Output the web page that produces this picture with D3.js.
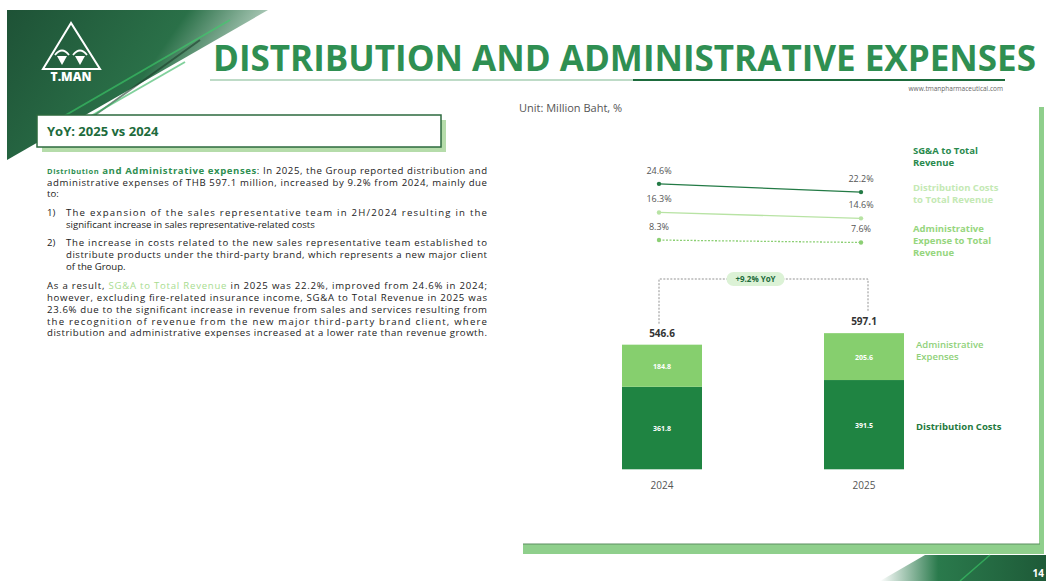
<!DOCTYPE html>
<html>
<head>
<meta charset="utf-8">
<script src="https://cdn.jsdelivr.net/npm/d3@7"></script>
<style>
  body { margin: 0; background: #fff; }
  svg { display: block; font-family: "Open Sans", "Noto Sans", sans-serif; }
</style>
</head>
<body>
<svg id="slide" width="1046" height="581"></svg>
<script>
// chart data
var years = ["2024", "2025"];
var distCosts = [361.8, 391.5];
var adminExp = [184.8, 205.6];
var totals = [546.6, 597.1];
var sgaRatio = [24.6, 22.2];
var distRatio = [16.3, 14.6];
var adminRatio = [8.3, 7.6];
var yoyLabel = "+9.2% YoY";

var green = "#2f8f52", dark = "#1d6b3c";
var colDist = "#1f8442", colAdmin = "#86cf6e";

var svg = d3.select("#slide");
var defs = svg.append("defs");

// header banner
var gr = defs.append("linearGradient").attr("id", "ban").attr("x1", 0).attr("y1", 0).attr("x2", 1).attr("y2", 0.4);
gr.append("stop").attr("offset", "0%").attr("stop-color", "#1e5236");
gr.append("stop").attr("offset", "60%").attr("stop-color", "#2a7048");
gr.append("stop").attr("offset", "100%").attr("stop-color", "#e8f3ec");
svg.append("polygon").attr("points", "7,10 268,10 7,160").attr("fill", "url(#ban)");
[[40, 130, 230, 20, "#3ccf6a"], [60, 140, 200, 40, "#1b3d2a"], [70, 128, 185, 62, "#2fb35c"]].forEach(function(s) {
  svg.append("line").attr("x1", s[0]).attr("y1", s[1]).attr("x2", s[2]).attr("y2", s[3])
    .attr("stroke", s[4]).attr("stroke-width", 2).attr("opacity", 0.6);
});

// logo
var logo = svg.append("g");
logo.append("polygon").attr("points", "71,23 43,69 100,69").attr("fill", "none").attr("stroke", "#fff").attr("stroke-width", 2);
logo.append("polygon").attr("points", "57,56 67,56 62,65").attr("fill", "#fff");
logo.append("polygon").attr("points", "75,56 85,56 80,65").attr("fill", "#fff");
logo.append("path").attr("d", "M55,55 Q62,46 69,55 M73,55 Q80,46 87,55").attr("fill", "none").attr("stroke", "#fff").attr("stroke-width", 1.8);
logo.append("text").attr("x", 71).attr("y", 81).attr("text-anchor", "middle").attr("fill", "#fff")
  .style("font-size", "12px").style("font-weight", 800).text("T.MAN");

// title
svg.append("text").attr("x", 213).attr("y", 71).attr("fill", green)
  .attr("textLength", 823).attr("lengthAdjust", "spacingAndGlyphs")
  .style("font-size", "35px").style("font-weight", 700).text("DISTRIBUTION AND ADMINISTRATIVE EXPENSES");
svg.append("line").attr("x1", 210).attr("x2", 635).attr("y1", 80).attr("y2", 80).attr("stroke", "#7fb88f").attr("stroke-width", 1.2);
svg.append("line").attr("x1", 633).attr("x2", 1005).attr("y1", 80).attr("y2", 80).attr("stroke", dark).attr("stroke-width", 2);
svg.append("text").attr("x", 1003).attr("y", 91).attr("text-anchor", "end").attr("fill", "#666")
  .style("font-size", "6.5px").text("www.tmanpharmaceutical.com");
svg.append("text").attr("x", 519).attr("y", 112).attr("fill", "#555")
  .style("font-size", "11px").text("Unit: Million Baht, %");

// frame
svg.append("rect").attr("x", 1039).attr("y", 107).attr("width", 5).attr("height", 441).attr("fill", "#8fcf8c");
svg.append("rect").attr("x", 523).attr("y", 544).attr("width", 521).attr("height", 10).attr("fill", "#8fcf8c");
svg.append("line").attr("x1", 523).attr("x2", 1040).attr("y1", 544).attr("y2", 544).attr("stroke", "#5d8f60").attr("stroke-width", 1);
var gr2 = defs.append("linearGradient").attr("id", "corner").attr("x1", 0).attr("y1", 0).attr("x2", 1).attr("y2", 0);
gr2.append("stop").attr("offset", "0%").attr("stop-color", "#ffffff");
gr2.append("stop").attr("offset", "35%").attr("stop-color", "#2a7a4c");
gr2.append("stop").attr("offset", "100%").attr("stop-color", "#1e5a38");
svg.append("polygon").attr("points", "880,581 925,555 1046,555 1046,581").attr("fill", "url(#corner)");
svg.append("line").attr("x1", 960).attr("y1", 581).attr("x2", 990).attr("y2", 555).attr("stroke", "#3ccf6a").attr("stroke-width", 1.5).attr("opacity", 0.6);
svg.append("text").attr("x", 1044).attr("y", 577).attr("text-anchor", "end").attr("fill", "#fff").style("font-size", "10px").style("font-weight", 700).text("14");

// YoY box
svg.append("rect").attr("x", 42).attr("y", 120).attr("width", 404).attr("height", 32).attr("fill", "#b5dcaa");
svg.append("rect").attr("x", 37).attr("y", 115).attr("width", 404).attr("height", 32).attr("fill", "#fff")
  .attr("stroke", "#2d6a3e").attr("stroke-width", 1.5);
svg.append("text").attr("x", 47).attr("y", 136).attr("fill", dark)
  .style("font-size", "13px").style("font-weight", 700).text("YoY: 2025 vs 2024");

// body text
var body = svg.append("g").style("font-size", "9.6px").attr("fill", "#222");
function line(x, y, parts, width) {
  var t = body.append("text").attr("x", x).attr("y", y);
  if (width) t.attr("textLength", width).attr("lengthAdjust", "spacing");
  parts.forEach(function(p) {
    if (typeof p === "string") t.append("tspan").text(p);
    else t.append("tspan").attr("fill", p.c).style("font-weight", p.w || 400).style("font-size", p.s || null).text(p.t);
  });
}
line(47, 174, [{t: "Distribution", c: green, w: 700, s: "7.5px"}, {t: " and Administrative expenses", c: green, w: 700}, ": In 2025, the Group reported distribution and"], 440);
line(47, 186, ["administrative expenses of THB 597.1 million, increased by 9.2% from 2024, mainly due"], 440);
line(47, 197, ["to:"]);
line(47, 216, ["1)"]);
line(66, 216, ["The expansion of the sales representative team in 2H/2024 resulting in the"], 421);
line(66, 228, ["significant increase in sales representative-related costs"]);
line(47, 246, ["2)"]);
line(66, 246, ["The increase in costs related to the new sales representative team established to"], 421);
line(66, 258, ["distribute products under the third-party brand, which represents a new major client"], 421);
line(66, 270, ["of the Group."]);
line(47, 289, ["As a result, ", {t: "SG&A to Total Revenue", c: "#a8dc90"}, " in 2025 was 22.2%, improved from 24.6% in 2024;"], 440);
line(47, 301, ["however, excluding fire-related insurance income, SG&A to Total Revenue in 2025 was"], 440);
line(47, 313, ["23.6% due to the significant increase in revenue from sales and services resulting from"], 440);
line(47, 325, ["the recognition of revenue from the new major third-party brand client, where"], 440);
line(47, 336, ["distribution and administrative expenses increased at a lower rate than revenue growth."], 440);

// ratio lines
var xl = d3.scalePoint().domain(years).range([659, 861]);
var yl = d3.scaleLinear().domain([0, 30]).range([268.7, 165.2]);
var ratioSeries = [
  {vals: sgaRatio, col: "#237a45", dash: null, name: ["SG&A to Total", "Revenue"], lc: "#2a8a4e", ly: 154},
  {vals: distRatio, col: "#b8e3a4", dash: null, name: ["Distribution Costs", "to Total Revenue"], lc: "#c4e9b4", ly: 191},
  {vals: adminRatio, col: "#8ccf74", dash: "2,1.5", name: ["Administrative", "Expense to Total", "Revenue"], lc: "#96d67e", ly: 232}
];
var lineGen = d3.line().x(function(d, i) { return xl(years[i]); }).y(function(d) { return yl(d); });
ratioSeries.forEach(function(s) {
  svg.append("path").attr("d", lineGen(s.vals)).attr("fill", "none").attr("stroke", s.col)
    .attr("stroke-width", 1.3).attr("stroke-dasharray", s.dash);
  svg.selectAll(null).data(s.vals).enter().append("circle")
    .attr("cx", function(d, i) { return xl(years[i]); }).attr("cy", function(d) { return yl(d); })
    .attr("r", 2.2).attr("fill", s.col);
  svg.selectAll(null).data(s.vals).enter().append("text")
    .attr("x", function(d, i) { return xl(years[i]); }).attr("y", function(d) { return yl(d) - 10; })
    .attr("text-anchor", "middle").attr("fill", "#555").style("font-size", "9px")
    .text(function(d) { return d.toFixed(1) + "%"; });
  s.name.forEach(function(n, j) {
    svg.append("text").attr("x", 913).attr("y", s.ly + j * 12).attr("fill", s.lc)
      .style("font-size", "9.5px").style("font-weight", 700).text(n);
  });
});

// stacked bars
var xb = d3.scalePoint().domain(years).range([662, 864]);
var yb = d3.scaleLinear().domain([0, 600]).range([469.3, 332.5]);
var bw = 80;
var bars = svg.selectAll(".bar").data(years).enter().append("g").attr("class", "bar");
bars.append("rect").attr("x", function(d) { return xb(d) - bw / 2; }).attr("width", bw)
  .attr("y", function(d, i) { return yb(distCosts[i]); })
  .attr("height", function(d, i) { return yb(0) - yb(distCosts[i]); }).attr("fill", colDist);
bars.append("rect").attr("x", function(d) { return xb(d) - bw / 2; }).attr("width", bw)
  .attr("y", function(d, i) { return yb(totals[i]); })
  .attr("height", function(d, i) { return yb(distCosts[i]) - yb(totals[i]); }).attr("fill", colAdmin);
bars.append("text").attr("x", function(d) { return xb(d); })
  .attr("y", function(d, i) { return (yb(0) + yb(distCosts[i])) / 2 + 3; })
  .attr("text-anchor", "middle").attr("fill", "#fff").style("font-size", "7px").style("font-weight", 700)
  .text(function(d, i) { return distCosts[i].toFixed(1); });
bars.append("text").attr("x", function(d) { return xb(d); })
  .attr("y", function(d, i) { return (yb(distCosts[i]) + yb(totals[i])) / 2 + 3; })
  .attr("text-anchor", "middle").attr("fill", "#fff").style("font-size", "7px").style("font-weight", 700)
  .text(function(d, i) { return adminExp[i].toFixed(1); });
bars.append("text").attr("x", function(d) { return xb(d); })
  .attr("y", function(d, i) { return yb(totals[i]) - 8; })
  .attr("text-anchor", "middle").attr("fill", "#333").style("font-size", "10px").style("font-weight", 700)
  .text(function(d, i) { return totals[i].toFixed(1); });
bars.append("text").attr("x", function(d) { return xb(d); }).attr("y", 489)
  .attr("text-anchor", "middle").attr("fill", "#555").style("font-size", "10px")
  .text(function(d) { return d; });

// YoY bracket
var bTop = 279;
var bx0 = xl(years[0]), bx1 = xb(years[1]) + 4;
svg.append("path")
  .attr("d", "M" + bx0 + "," + (yb(totals[0]) - 21) + "V" + bTop + "H" + bx1 + "V" + (yb(totals[1]) - 21))
  .attr("fill", "none").attr("stroke", "#777").attr("stroke-width", 0.8).attr("stroke-dasharray", "2,1.5");
var mid = (bx0 + bx1) / 2 - 8;
svg.append("rect").attr("x", mid - 29).attr("y", bTop - 7).attr("width", 58).attr("height", 14)
  .attr("rx", 7).attr("fill", "#dcf2d6");
svg.append("text").attr("x", mid).attr("y", bTop + 3).attr("text-anchor", "middle")
  .attr("fill", dark).style("font-size", "8px").style("font-weight", 700).text(yoyLabel);

// bar legend
svg.append("text").attr("x", 916).attr("y", 348).attr("fill", "#8fd17a").style("font-size", "9.5px").style("font-weight", 600).text("Administrative");
svg.append("text").attr("x", 916).attr("y", 360).attr("fill", "#8fd17a").style("font-size", "9.5px").style("font-weight", 600).text("Expenses");
svg.append("text").attr("x", 916).attr("y", 430).attr("fill", "#1f7a40").style("font-size", "9.5px").style("font-weight", 700).text("Distribution Costs");
</script>
</body>
</html>
